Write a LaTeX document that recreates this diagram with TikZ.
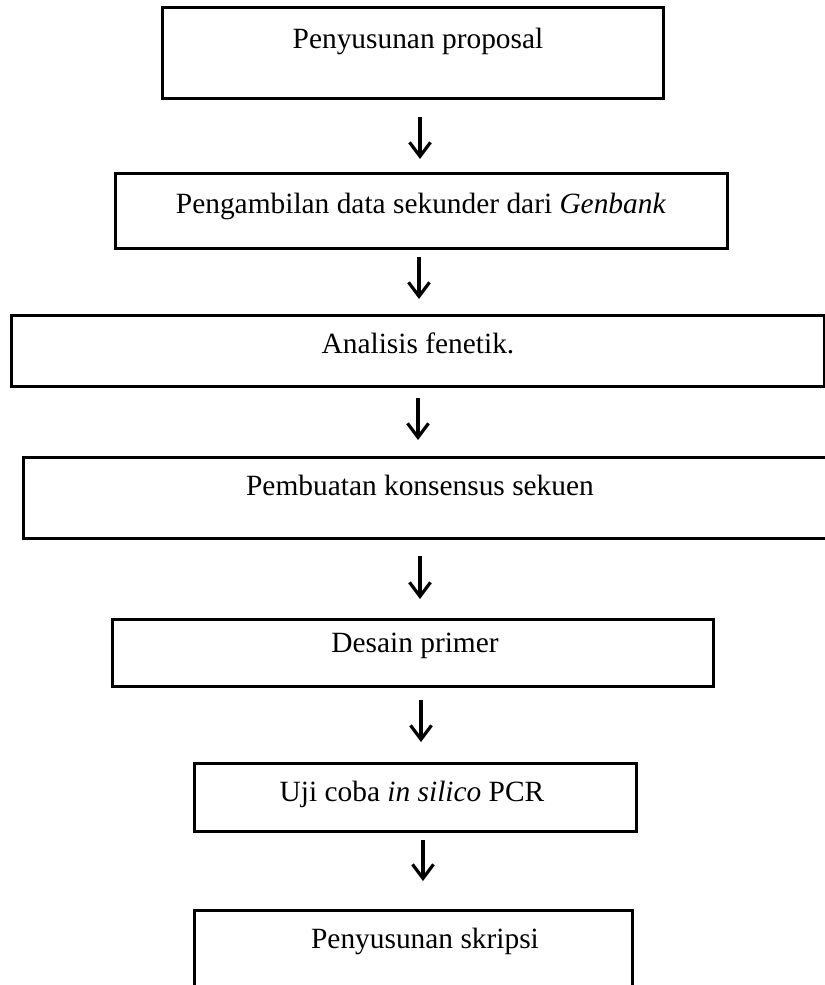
\documentclass[tikz,border=0pt]{standalone}
\usepackage{fontspec}
\setmainfont{Liberation Serif}
\usetikzlibrary{arrows.meta}
\tikzset{
  stepbox/.style={draw=black, line width=3bp, inner sep=0pt, outer sep=0pt},
  lbl/.style={inner sep=0pt, font=\fontsize{29.5}{34}\selectfont},
  flow/.style={line width=3.2bp, -{Straight Barb[length=14bp, width=21bp, line width=3.2bp]}}
}
\begin{document}
\begin{tikzpicture}[x=1bp, y=-1bp]
\useasboundingbox (0,0) rectangle (825,985);
\begin{scope}
\clip (0,0) rectangle (825,985);
% boxes
\node[stepbox, minimum width=500bp, minimum height=91bp] (b1) at (413,52.5) {};
\node[stepbox, minimum width=611bp, minimum height=75bp] (b2) at (421.5,210.5) {};
\node[stepbox, minimum width=812bp, minimum height=71bp] (b3) at (418,350.5) {};
\node[stepbox, minimum width=816bp, minimum height=81bp] (b4) at (432,497.5) {};
\node[stepbox, minimum width=600bp, minimum height=67bp] (b5) at (413,652.5) {};
\node[stepbox, minimum width=441bp, minimum height=68bp] (b6) at (415.5,797) {};
\node[stepbox, minimum width=437bp, minimum height=100bp] (b7) at (413.5,960) {};
\end{scope}
% texts
\node[lbl] (t1) at (418,41) {Penyusunan proposal};
\node[lbl] (t2) at (421,206) {Pengambilan data sekunder dari \textit{Genbank}};
\node[lbl] (t3) at (418,343) {Analisis fenetik.};
\node[lbl] (t4) at (420,485) {Pembuatan konsensus sekuen};
\node[lbl] (t5) at (415,646) {Desain primer};
\node[lbl] (t6) at (412,794) {Uji coba \textit{in silico} PCR};
\node[lbl] (t7) at (425,941) {Penyusunan skripsi};
% arrows
\coordinate (a1s) at (420,117); \coordinate (a1e) at (420,159);
\coordinate (a2s) at (419,257); \coordinate (a2e) at (419,299);
\coordinate (a3s) at (418,398); \coordinate (a3e) at (418,440);
\coordinate (a4s) at (420,556); \coordinate (a4e) at (420,599);
\coordinate (a5s) at (421,700); \coordinate (a5e) at (421,742);
\coordinate (a6s) at (423,840); \coordinate (a6e) at (423,881);
\draw[flow] (a1s) -- (a1e);
\draw[flow] (a2s) -- (a2e);
\draw[flow] (a3s) -- (a3e);
\draw[flow] (a4s) -- (a4e);
\draw[flow] (a5s) -- (a5e);
\draw[flow] (a6s) -- (a6e);
\end{tikzpicture}
\end{document}
